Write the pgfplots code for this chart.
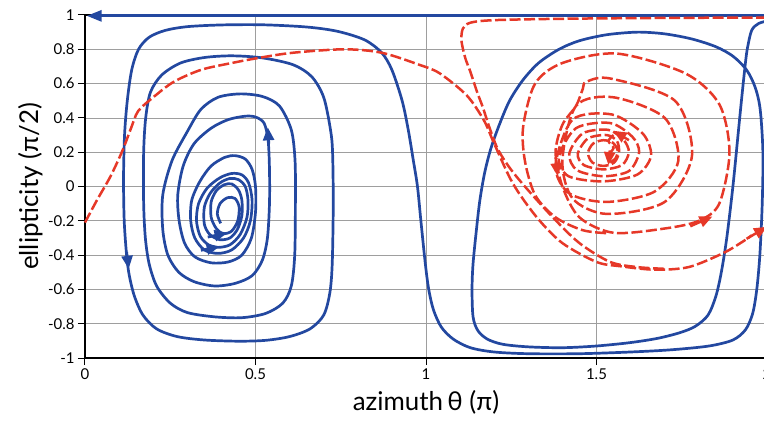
\documentclass[border=0pt]{standalone}
\usepackage{pgfplots}
\pgfplotsset{compat=1.18}
\usepackage{fontspec}
\setmainfont{Lato}
\usetikzlibrary{arrows.meta}
\definecolor{bl}{RGB}{35,72,160}
\definecolor{rd}{RGB}{230,56,40}
\begin{document}
\begin{tikzpicture}
\begin{axis}[name=ax, scale only axis, width=682bp, height=343bp,
 xmin=0, xmax=2, ymin=-1, ymax=1, clip=false,
 xtick={0,0.5,1,1.5,2}, xticklabels={0,0.5,1,1.5,2},
 ytick={-1,-0.8,-0.6,-0.4,-0.2,0,0.2,0.4,0.6,0.8,1},
 yticklabels={-1,-0.8,-0.6,-0.4,-0.2,0,0.2,0.4,0.6,0.8,1},
 grid=major, major grid style={draw=black!38, line width=0.7bp},
 tick pos=left, tick align=outside, major tick length=7bp,
 every tick/.style={black, line width=1bp},
 axis line style={black, line width=1.5bp},
 ticklabel style={font=\fontsize{15}{15}\selectfont},
 xlabel={azimuth\,θ (π)}, ylabel={ellipticity (π/2)},
 label style={font=\fontsize{26}{30}\selectfont},
 xlabel style={at={(axis description cs:0.5,-0.1545)}, anchor=base},
 ylabel style={at={(axis description cs:-0.0689,0.5)}, anchor=base},
 bluel/.style={bl, line width=2.7bp, smooth, tension=0.5, no markers},
 redl/.style={rd, line width=2.5bp, smooth, tension=0.5, no markers, dash pattern=on 11bp off 3.5bp},
 barr/.style={bl, line width=2.7bp, no markers, solid, -{Triangle[length=13bp,width=11bp]}},
 rarr/.style={rd, line width=2.5bp, no markers, solid, -{Triangle[length=13bp,width=11bp]}},
]
% blue pole line
\addplot[bl, line width=3bp, no markers, -{Triangle[length=15bp,width=11bp]}] coordinates {(2.0,0.995) (0.005,0.995)};
% blue main trajectory
\addplot[bluel] coordinates {
(2.0,0.965) (1.975,0.95) (1.955,0.91) (1.942,0.8) (1.935,0.69) (1.925,0.5) (1.915,0.3) (1.9,0.0) (1.882,-0.3) (1.866,-0.5) (1.85,-0.64) (1.827,-0.75) (1.79,-0.815) (1.745,-0.852) (1.68,-0.885) (1.6,-0.91) (1.5,-0.93) (1.4,-0.94) (1.3,-0.935) (1.225,-0.92) (1.18,-0.89) (1.152,-0.84) (1.138,-0.76) (1.135,-0.6) (1.138,-0.45) (1.148,-0.25) (1.158,-0.08) (1.172,0.08) (1.19,0.22) (1.215,0.36) (1.245,0.5) (1.284,0.62) (1.33,0.72) (1.39,0.8) (1.45,0.85) (1.53,0.885) (1.62,0.9) (1.7,0.89) (1.78,0.86) (1.85,0.815) (1.9,0.76) (1.94,0.68) (1.965,0.58) (1.98,0.45) (1.988,0.2) (1.986,-0.1) (1.979,-0.4) (1.97,-0.6) (1.958,-0.74) (1.937,-0.835) (1.9,-0.895) (1.83,-0.93) (1.72,-0.952) (1.6,-0.965) (1.45,-0.975) (1.3,-0.975) (1.2,-0.965) (1.13,-0.94) (1.08,-0.89) (1.045,-0.82) (1.022,-0.72) (1.008,-0.6) (0.998,-0.45) (0.985,-0.2) (0.975,0.0) (0.963,0.15) (0.948,0.33) (0.93,0.5) (0.9,0.68) (0.87,0.78) (0.82,0.855) (0.74,0.905) (0.65,0.93) (0.52,0.943) (0.4,0.942) (0.3,0.932) (0.235,0.91) (0.188,0.87) (0.157,0.8) (0.137,0.68) (0.124,0.5) (0.116,0.3) (0.113,0.05) (0.115,-0.2) (0.122,-0.4) (0.13,-0.52) (0.145,-0.64) (0.17,-0.75) (0.21,-0.83) (0.27,-0.875) (0.35,-0.895) (0.45,-0.902) (0.53,-0.897) (0.6,-0.875) (0.66,-0.83) (0.7,-0.75) (0.718,-0.62) (0.725,-0.45) (0.728,-0.1) (0.726,0.2) (0.72,0.33) (0.7,0.52) (0.665,0.64) (0.61,0.71) (0.52,0.75) (0.43,0.762) (0.35,0.752) (0.28,0.72) (0.225,0.65) (0.192,0.55) (0.178,0.4) (0.172,0.2) (0.172,-0.1) (0.177,-0.3) (0.188,-0.45) (0.21,-0.58) (0.25,-0.68) (0.3,-0.735) (0.38,-0.76) (0.46,-0.765) (0.53,-0.74) (0.58,-0.68) (0.605,-0.58) (0.615,-0.4) (0.617,-0.1) (0.616,0.15) (0.605,0.33) (0.57,0.47) (0.52,0.525) (0.455,0.54) (0.39,0.52) (0.34,0.45) (0.3,0.32) (0.255,0.15) (0.228,-0.05) (0.228,-0.25) (0.243,-0.4) (0.275,-0.5) (0.32,-0.555) (0.38,-0.58) (0.44,-0.565) (0.49,-0.52) (0.52,-0.43) (0.535,-0.3) (0.541,-0.1) (0.541,0.1) (0.537,0.27) (0.525,0.37) (0.5,0.405) (0.47,0.41) (0.42,0.39) (0.37,0.34) (0.32,0.25) (0.288,0.12) (0.272,-0.05) (0.276,-0.2) (0.292,-0.33) (0.322,-0.41) (0.37,-0.445) (0.42,-0.44) (0.46,-0.4) (0.488,-0.3) (0.5,-0.15) (0.5,0.0) (0.49,0.1) (0.47,0.16) (0.44,0.18) (0.41,0.17) (0.37,0.12) (0.337,0.03) (0.313,-0.08) (0.31,-0.2) (0.322,-0.3) (0.35,-0.37) (0.39,-0.39) (0.43,-0.37) (0.465,-0.3) (0.485,-0.2) (0.49,-0.08) (0.48,0.02) (0.46,0.068) (0.43,0.076) (0.395,0.05) (0.358,-0.01) (0.333,-0.1) (0.327,-0.2) (0.338,-0.29) (0.362,-0.34) (0.39,-0.355) (0.425,-0.34) (0.455,-0.28) (0.475,-0.18) (0.478,-0.08) (0.47,0.0) (0.45,0.04) (0.425,0.047) (0.395,0.02) (0.367,-0.04) (0.35,-0.12) (0.35,-0.22) (0.366,-0.28) (0.395,-0.31) (0.425,-0.3) (0.447,-0.25) (0.46,-0.17) (0.46,-0.08) (0.45,-0.02) (0.43,0.015) (0.408,0.01) (0.385,-0.025) (0.37,-0.09) (0.37,-0.18) (0.385,-0.245) (0.405,-0.275) (0.43,-0.26) (0.448,-0.2) (0.452,-0.12) (0.44,-0.07) (0.418,-0.065) (0.396,-0.1) (0.388,-0.16) (0.398,-0.215)
};
% blue arrows
\addplot[barr] coordinates {(0.122,-0.38) (0.128,-0.48)};
\addplot[barr] coordinates {(0.539,0.25) (0.536,0.345)};
\addplot[barr] coordinates {(0.36,-0.295) (0.418,-0.27)};
\addplot[barr] coordinates {(0.34,-0.372) (0.395,-0.35)};
% red path from left edge
\addplot[redl] coordinates {
(0,-0.21) (0.035,-0.08) (0.075,0.06) (0.11,0.21) (0.135,0.34) (0.156,0.44) (0.2,0.52) (0.26,0.61) (0.34,0.68) (0.43,0.72) (0.51,0.75) (0.61,0.78) (0.76,0.80) (0.87,0.78) (0.98,0.71) (1.04,0.66) (1.12,0.53) (1.17,0.385) (1.20,0.25) (1.255,0.017) (1.325,-0.18) (1.40,-0.33) (1.50,-0.44) (1.57,-0.465) (1.67,-0.485) (1.77,-0.47) (1.87,-0.39) (1.93,-0.32) (1.955,-0.285)
};
\addplot[rarr] coordinates {(1.94,-0.305) (2.0,-0.235)};
% red path from the pole
\addplot[redl] coordinates {
(2.0,0.985) (1.7,0.983) (1.4,0.978) (1.2,0.97) (1.13,0.955) (1.108,0.92) (1.104,0.85) (1.115,0.75) (1.13,0.67) (1.15,0.55) (1.167,0.46) (1.185,0.35) (1.21,0.22) (1.245,0.11) (1.29,0.0) (1.372,-0.18) (1.45,-0.33) (1.54,-0.44) (1.62,-0.47) (1.70,-0.48)
};
% red spiral
\addplot[redl] coordinates {
(1.55,0.30) (1.535,0.265) (1.55,0.225) (1.535,0.185) (1.54,0.17)
};
\addplot[redl] coordinates {
(1.54,0.14) (1.556,0.165) (1.562,0.21) (1.548,0.255)
(1.52,0.27) (1.49,0.25) (1.475,0.195) (1.488,0.14) (1.52,0.12) (1.552,0.14) (1.566,0.2) (1.56,0.265)
(1.53,0.30) (1.475,0.28) (1.445,0.19) (1.463,0.125) (1.52,0.10) (1.575,0.125) (1.595,0.2) (1.58,0.27)
(1.535,0.33) (1.46,0.31) (1.42,0.19) (1.443,0.095) (1.52,0.06) (1.595,0.09) (1.625,0.2) (1.605,0.29)
(1.54,0.37) (1.44,0.34) (1.39,0.17) (1.418,0.06) (1.52,0.03) (1.62,0.07) (1.66,0.18) (1.635,0.31)
(1.545,0.42) (1.43,0.39) (1.38,0.12) (1.42,-0.04) (1.53,-0.09) (1.67,-0.03) (1.74,0.15) (1.70,0.40)
(1.55,0.52) (1.44,0.47) (1.40,0.15) (1.43,-0.07) (1.53,-0.16) (1.70,-0.09) (1.78,0.18) (1.73,0.50)
(1.54,0.63) (1.47,0.61) (1.46,0.57) (1.44,0.47) (1.40,0.36) (1.38,0.2) (1.40,0.0) (1.45,-0.18) (1.55,-0.27) (1.70,-0.245) (1.80,-0.2) (1.86,-0.1) (1.89,0.2) (1.86,0.48) (1.76,0.66)
(1.56,0.775) (1.40,0.72) (1.32,0.6) (1.285,0.35) (1.29,0.15) (1.32,-0.05) (1.38,-0.18) (1.46,-0.255) (1.53,-0.272)
};
% red arrows
\addplot[rarr] coordinates {(1.775,-0.232) (1.84,-0.175)};
\addplot[rarr] coordinates {(1.38,0.17) (1.386,0.06)};
\addplot[rarr] coordinates {(1.595,0.27) (1.55,0.325)};
\addplot[rarr] coordinates {(1.539,0.21) (1.535,0.125)};
\end{axis}
\pgfresetboundingbox
\path ([xshift=-85bp,yshift=-63bp]ax.south west) rectangle ([xshift=-3bp,yshift=15bp]ax.north east);
\end{tikzpicture}
\end{document}
